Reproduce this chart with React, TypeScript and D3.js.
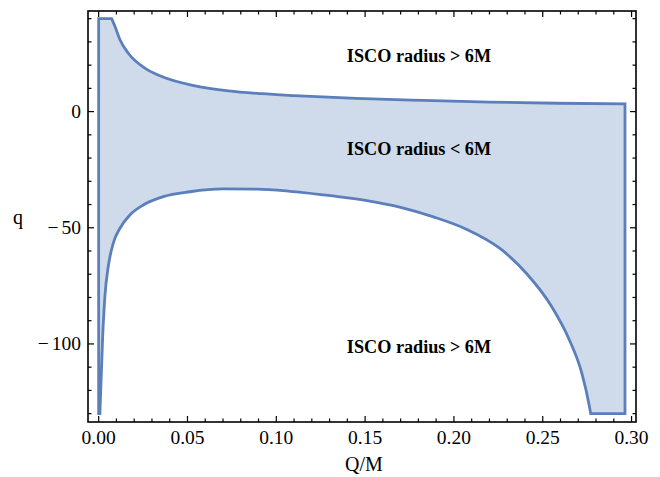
import React from "react";
import * as d3 from "d3";

const upperQ = [0.0073, 0.0092, 0.012, 0.0167, 0.026, 0.0355, 0.0542, 0.073, 0.0918, 0.11, 0.145, 0.183, 0.22, 0.258, 0.2963];
const upperq = [40, 36.6, 30.9, 25.1, 18.7, 15.1, 11.1, 8.9, 7.7, 6.9, 5.7, 4.8, 4.1, 3.6, 3.3];

const lowerQ = [0.0007, 0.00225, 0.0035, 0.0054, 0.0082, 0.012, 0.0176, 0.0251, 0.0364, 0.0514, 0.07, 0.089, 0.1077, 0.132, 0.151, 0.17, 0.188, 0.207, 0.2261, 0.241, 0.255, 0.265, 0.272, 0.2763, 0.277];
const lowerq = [-130, -96.9, -79.6, -66.7, -56.7, -50.2, -44.5, -40.2, -36.6, -34.5, -33.3, -33.4, -34.3, -36.3, -38.3, -41.2, -45.2, -50.6, -59.0, -69.8, -83.9, -98.3, -112.6, -127, -130];

const qTop = 40;
const qBottom = -130;
const qRightEdge = 0.2963;

const xMajor = [0, 0.05, 0.1, 0.15, 0.2, 0.25, 0.3];
const xMajorLabels = ["0.00", "0.05", "0.10", "0.15", "0.20", "0.25", "0.30"];
const yMajor = [0, -50, -100];
const yMajorLabels = ["0", "50", "100"];

const annotations = ["ISCO radius > 6M", "ISCO radius < 6M", "ISCO radius > 6M"];
const annotationY = [56, 149, 347];

const L = 88, R = 636, T = 11, B = 422;

export default function App() {
  const x = d3.scaleLinear().domain([-0.006, 0.3025]).range([L, R]);
  const y = d3.scaleLinear().domain([-133.6, 43.3]).range([B, T]);

  const line = d3.line<[number, number]>().x(d => x(d[0])).y(d => y(d[1])).curve(d3.curveMonotoneX);
  const lowerPts: [number, number][] = lowerQ.map((q, i) => [q, lowerq[i]]);
  const upperPts: [number, number][] = upperQ.map((q, i) => [q, upperq[i]]).reverse() as [number, number][];

  const path =
    `M${x(0)},${y(qTop)}L${x(0)},${y(qBottom)}` +
    (line(lowerPts) || "").replace(/^M/, "L") +
    `L${x(qRightEdge)},${y(qBottom)}` +
    (line(upperPts) || "").replace(/^M/, "L") +
    `L${x(0)},${y(qTop)}Z`;

  const xMinor = d3.range(0, 31).map(i => i / 100).filter(v => !xMajor.some(m => Math.abs(m - v) < 1e-9));
  const yMinor = d3.range(-130, 41, 10).filter(v => v % 50 !== 0);
  const yMajorAll = [0, -50, -100];

  const font = "'Liberation Serif', 'Times New Roman', serif";
  const maj = 6, mino = 3.5;

  return (
    <div style={{ position: "fixed", left: 0, top: 0 }}>
      <svg width={660} height={477} style={{ display: "block", background: "#fff" }}>
        <path d={path} fill="#cfdaea" stroke="#5b7fbb" strokeWidth={2.8} strokeLinejoin="miter" />
        {annotations.map((t, i) => (
          <text key={i} x={419} y={annotationY[i]} textAnchor="middle" dominantBaseline="central"
            fontFamily={font} fontWeight="bold" fontSize={18.2}>{t}</text>
        ))}
        <g stroke="#000" strokeWidth={1.2}>
          {xMajor.map(v => (
            <g key={"xm" + v}>
              <line x1={x(v)} x2={x(v)} y1={B} y2={B - maj} />
              <line x1={x(v)} x2={x(v)} y1={T} y2={T + maj} />
            </g>
          ))}
          {xMinor.map(v => (
            <g key={"xn" + v}>
              <line x1={x(v)} x2={x(v)} y1={B} y2={B - mino} />
              <line x1={x(v)} x2={x(v)} y1={T} y2={T + mino} />
            </g>
          ))}
          {yMajorAll.map(v => (
            <g key={"ym" + v}>
              <line x1={L} x2={L + maj} y1={y(v)} y2={y(v)} />
              <line x1={R} x2={R - maj} y1={y(v)} y2={y(v)} />
            </g>
          ))}
          {yMinor.map(v => (
            <g key={"yn" + v}>
              <line x1={L} x2={L + mino} y1={y(v)} y2={y(v)} />
              <line x1={R} x2={R - mino} y1={y(v)} y2={y(v)} />
            </g>
          ))}
        </g>
        <rect x={L} y={T} width={R - L} height={B - T} fill="none" stroke="#000" strokeWidth={1.6} />
        {xMajor.map((v, i) => (
          <text key={"xl" + v} x={x(v)} y={444} textAnchor="middle" fontFamily={font} fontSize={19.5}>{xMajorLabels[i]}</text>
        ))}
        {yMajor.map((v, i) => (
          <text key={"yl" + v} x={81} y={y(v)} dy="0.33em" textAnchor="end" fontFamily={font} fontSize={19.5}>
            {v < 0 ? <tspan>{"\u2212"}</tspan> : null}
            {v < 0 ? <tspan dx={3}>{yMajorLabels[i]}</tspan> : yMajorLabels[i]}
          </text>
        ))}
        <text x={364} y={471} textAnchor="middle" fontFamily={font} fontSize={20}>Q/M</text>
        <text x={18} y={224} textAnchor="middle" fontFamily={font} fontSize={20}>q</text>
      </svg>
    </div>
  );
}
